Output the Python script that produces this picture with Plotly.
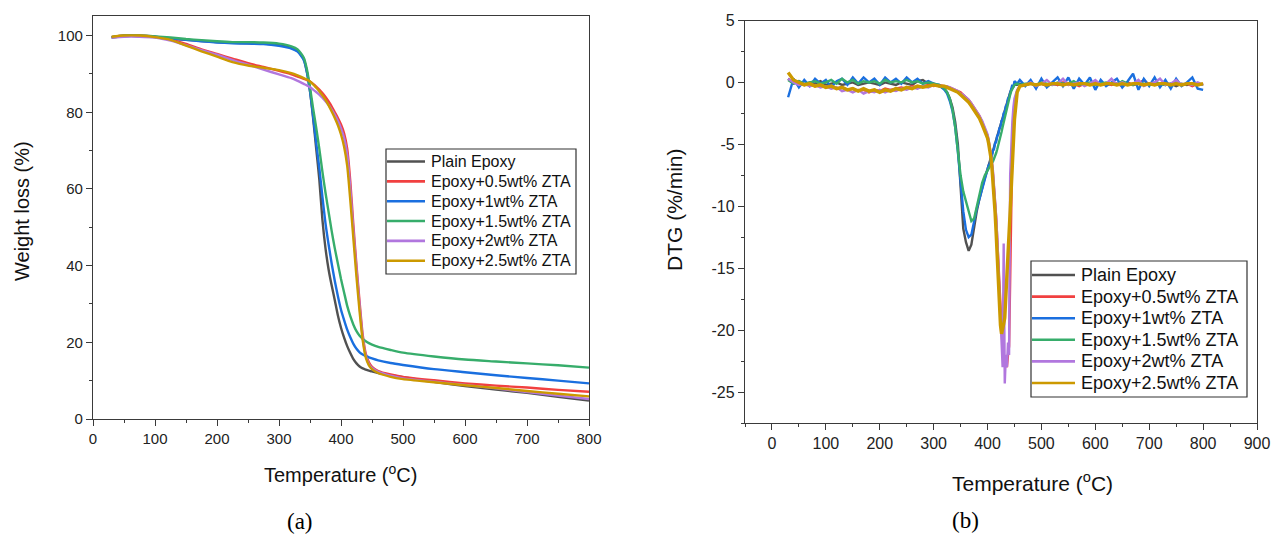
import plotly.graph_objects as go

# ---------------- data ----------------
SERIES = ["Plain Epoxy", "Epoxy+0.5wt% ZTA", "Epoxy+1wt% ZTA",
          "Epoxy+1.5wt% ZTA", "Epoxy+2wt% ZTA", "Epoxy+2.5wt% ZTA"]
COLORS = ["#515151", "#F14040", "#1A6FDF", "#37AD6B", "#B177DE", "#CC9900"]

# (a) TGA: temperature (C) and weight (%)
T_TGA = [30, 50, 75, 100, 125, 150, 175, 200, 225, 250,
         275, 300, 320, 330, 340, 345, 350, 355, 360, 365,
         370, 375, 380, 385, 390, 395, 400, 405, 410, 415,
         420, 425, 430, 435, 440, 445, 450, 460, 480, 500,
         550, 600, 650, 700, 750, 800]
TGA_PLAIN = [99.5, 99.9, 99.9, 99.6, 99.2, 98.9, 98.6, 98.3, 98.1, 98.0,
             97.9, 97.5, 96.8, 96.0, 93.8, 90.5, 85.5, 78.5, 70.5, 62.5,
             52.0, 44.5, 39.0, 34.8, 31.0, 27.0, 23.8, 21.2, 19.0, 17.2,
             15.6, 14.5, 13.7, 13.2, 12.9, 12.6, 12.4, 12.0, 11.4, 10.9,
             9.7, 8.6, 7.7, 6.8, 5.8, 4.8]
TGA_05 = [99.6, 100.0, 100.0, 99.7, 99.0, 97.8, 96.4, 95.2, 94.0, 92.8,
          91.8, 90.8, 89.9, 89.3, 88.7, 88.4, 88.0, 87.4, 86.7, 85.9,
          85.0, 84.0, 82.8, 81.5, 80.0, 78.5, 76.8, 74.5, 70.5, 62.0,
          50.5, 40.0, 30.5, 22.0, 17.0, 14.8, 13.6, 12.5, 11.6, 11.0,
          10.1, 9.3, 8.7, 8.2, 7.6, 7.1]
TGA_1 = [99.6, 99.9, 99.9, 99.7, 99.3, 98.9, 98.5, 98.2, 98.0, 97.9,
         97.8, 97.3, 96.6, 95.8, 93.6, 90.5, 85.5, 79.0, 72.0, 65.5,
         58.0, 51.0, 45.5, 40.5, 36.0, 32.0, 28.5, 25.8, 23.3, 21.3,
         19.6, 18.3, 17.4, 16.8, 16.4, 16.1, 15.8, 15.3, 14.6, 14.1,
         13.0, 12.2, 11.4, 10.7, 10.0, 9.3]
TGA_15 = [99.6, 100.0, 100.0, 99.8, 99.5, 99.1, 98.8, 98.5, 98.3, 98.3,
          98.2, 97.9, 97.2, 96.4, 94.2, 91.2, 86.5, 81.0, 76.0, 70.5,
          64.5, 59.0, 54.0, 49.0, 44.5, 40.5, 36.5, 33.0, 29.5, 26.8,
          24.6, 22.9, 21.7, 20.9, 20.3, 19.8, 19.4, 18.8, 18.0, 17.3,
          16.3, 15.5, 15.0, 14.5, 14.0, 13.4]
TGA_2 = [99.5, 99.7, 99.7, 99.5, 98.7, 97.5, 96.2, 95.0, 93.6, 92.4,
         91.1, 89.9, 88.9, 88.2, 87.4, 87.0, 86.5, 85.9, 85.3, 84.6,
         83.8, 82.9, 81.9, 80.7, 79.3, 77.7, 75.8, 73.3, 69.0, 60.0,
         49.0, 39.0, 29.5, 21.3, 16.5, 14.3, 13.3, 12.3, 11.3, 10.6,
         9.7, 8.9, 8.0, 7.0, 6.1, 5.2]
TGA_25 = [99.7, 100.0, 100.0, 99.6, 98.9, 97.4, 95.9, 94.5, 93.1, 92.2,
          91.6, 91.0, 90.2, 89.6, 88.9, 88.5, 88.0, 87.3, 86.4, 85.5,
          84.4, 83.2, 81.8, 80.2, 78.5, 76.6, 74.2, 71.0, 66.0, 57.0,
          47.0, 37.0, 28.0, 20.5, 16.0, 14.0, 13.0, 12.0, 11.0, 10.4,
          9.6, 8.8, 8.1, 7.3, 6.6, 5.9]

# (b) DTG: sampling temperatures (C) and rate (%/min)
T_DTG = (list(range(30, 320, 10)) + list(range(320, 400, 5)) +
         list(range(400, 452, 2)) + [455, 460, 470] + list(range(480, 810, 10)))

DTG_PLAIN = [0.3, -0.1, 0.1, -0.2, 0.0, -0.1, 0.1, -0.2, -0.1, 0.0,
             -0.2, -0.1, 0.0, -0.2, -0.1, 0.0, -0.1, -0.2, 0.0, -0.1,
             -0.2, 0.0, -0.1, -0.2, 0.1, 0.2, -0.1, -0.1, -0.3,
             -0.5, -0.8, -1.3, -2.0, -3.2, -5.0, -8.5, -11.8, -12.9, -13.6,
             -13.1, -11.6, -10.4, -9.4, -8.5, -7.7,
             -7.0, -6.7, -6.4, -6.1, -5.8, -5.5, -5.2, -4.9, -4.6, -4.3,
             -4.0, -3.7, -3.4, -3.1, -2.8, -2.5, -2.2, -1.9, -1.6, -1.3,
             -1.0, -0.8, -0.6, -0.4, -0.3, -0.2,
             -0.2, -0.1, -0.2,
             -0.1, -0.2, -0.1, -0.2, -0.1, -0.2, -0.1, -0.1, -0.2, -0.1,
             -0.2, -0.1, -0.2, -0.1, -0.2, -0.1, -0.1, -0.2, -0.1, -0.2,
             -0.1, -0.2, -0.1, -0.2, -0.1, -0.2, -0.1, -0.3, -0.1, -0.2,
             -0.1, -0.2, -0.2]
DTG_05 = [0.2, 0.1, -0.1, -0.2, -0.1, -0.3, -0.2, -0.4, -0.3, -0.5,
          -0.4, -0.6, -0.5, -0.7, -0.6, -0.8, -0.6, -0.7, -0.5, -0.6,
          -0.5, -0.4, -0.5, -0.3, -0.4, -0.3, -0.2, -0.3, -0.2,
          -0.3, -0.4, -0.4, -0.5, -0.6, -0.7, -0.8, -1.0, -1.2, -1.4,
          -1.7, -2.0, -2.3, -2.7, -3.2, -3.7,
          -4.3, -4.7, -5.2, -5.8, -6.5, -7.3, -8.3, -9.5, -10.9, -12.6,
          -14.5, -16.6, -18.8, -20.5, -21.5, -22.0, -22.3, -22.8, -23.0, -22.0,
          -21.3, -16.0, -9.0, -5.0, -3.0, -1.8,
          -0.7, -0.3, -0.2,
          -0.1, -0.2, -0.1, -0.3, -0.1, -0.2, 0.0, -0.2, -0.1, -0.3,
          -0.1, -0.2, 0.0, -0.2, -0.1, -0.2, -0.1, -0.3, 0.0, -0.2,
          -0.1, 0.2, -0.2, -0.1, -0.2, 0.0, -0.2, -0.1, -0.2, -0.1,
          -0.3, -0.1, -0.2]
DTG_1 = [-1.2, 0.3, -0.4, 0.2, -0.3, 0.3, -0.1, 0.2, -0.4, 0.1,
         0.3, -0.2, 0.4, -0.1, 0.4, 0.0, 0.3, -0.2, 0.4, 0.0,
         0.3, -0.1, 0.4, 0.0, 0.3, -0.1, 0.1, -0.1, -0.2,
         -0.6, -0.9, -1.5, -2.3, -3.6, -5.6, -8.2, -10.4, -11.9, -12.5,
         -12.3, -11.2, -10.2, -9.4, -8.6, -7.8,
         -7.2, -6.7, -6.6, -6.1, -6.0, -5.5, -5.4, -4.9, -4.8, -4.3,
         -4.2, -3.7, -3.6, -3.1, -3.0, -2.5, -2.4, -1.9, -1.8, -1.3,
         -1.2, -0.8, -0.6, -0.2, -0.4, 0.1,
         -0.1, 0.2, -0.3,
         0.2, -0.5, 0.3, -0.4, 0.0, 0.4, -0.3, 0.4, -0.5, 0.3,
         -0.2, 0.4, -0.6, 0.2, -0.3, 0.0, 0.3, -0.4, 0.1, 0.7,
         -0.6, 0.3, -0.3, 0.4, -0.4, 0.2, -0.5, 0.3, -0.3, 0.0,
         0.4, -0.5, -0.6]
DTG_15 = [0.2, -0.1, 0.1, -0.1, 0.0, 0.1, -0.1, 0.0, 0.2, -0.1,
          0.3, 0.0, 0.2, -0.1, 0.1, 0.0, 0.1, -0.1, 0.2, 0.0,
          0.1, 0.0, 0.2, 0.0, 0.1, -0.1, 0.0, -0.1, -0.2,
          -0.5, -0.8, -1.3, -2.2, -3.6, -5.5, -7.5, -8.8, -9.6, -10.3,
          -11.2, -11.0, -10.0, -9.0, -8.1, -7.5,
          -7.1, -6.9, -6.7, -6.6, -6.5, -6.4, -6.2, -6.0, -5.7, -5.4,
          -5.1, -4.8, -4.4, -4.0, -3.6, -3.2, -2.8, -2.4, -2.0, -1.6,
          -1.3, -1.0, -0.7, -0.5, -0.3, -0.2,
          -0.1, -0.2, -0.1,
          -0.1, -0.2, 0.0, -0.1, -0.2, 0.0, -0.1, -0.1, 0.1, -0.2,
          -0.1, 0.0, -0.2, -0.1, 0.0, -0.1, -0.2, 0.1, -0.1, -0.2,
          0.0, -0.1, -0.2, 0.0, -0.1, -0.2, -0.1, 0.0, -0.2, -0.1,
          -0.1, -0.2, -0.2]
DTG_2 = [0.3, 0.0, -0.2, -0.1, -0.3, -0.2, -0.4, -0.3, -0.5, -0.4,
         -0.7, -0.6, -0.8, -0.6, -0.9, -0.7, -0.8, -0.6, -0.8, -0.6,
         -0.7, -0.5, -0.6, -0.4, -0.5, -0.3, -0.4, -0.2, -0.3,
         -0.3, -0.3, -0.4, -0.5, -0.6, -0.7, -0.9, -1.0, -1.2, -1.4,
         -1.7, -2.0, -2.3, -2.7, -3.1, -3.6,
         -4.2, -4.6, -5.1, -5.6, -6.3, -7.1, -8.1, -9.3, -10.8, -12.5,
         -14.5, -16.8, -19.2, -21.5, -23.0, -13.0, -24.3, -22.0, -23.0, -21.0,
         -22.0, -7.5, -5.0, -3.2, -2.0, -1.3,
         -0.6, -0.3, -0.2,
         0.0, -0.3, -0.1, 0.2, -0.2, -0.1, 0.3, -0.2, -0.1, 0.0,
         -0.3, -0.1, 0.2, -0.2, -0.1, 0.3, -0.2, 0.0, -0.2, -0.1,
         0.2, -0.3, -0.1, 0.0, 0.3, -0.2, -0.1, 0.2, -0.2, -0.1,
         -0.2, 0.0, -0.2]
DTG_25 = [0.8, 0.2, 0.0, -0.2, -0.1, -0.3, -0.2, -0.4, -0.3, -0.5,
          -0.4, -0.6, -0.5, -0.7, -0.5, -0.7, -0.6, -0.8, -0.6, -0.7,
          -0.5, -0.6, -0.4, -0.5, -0.3, -0.4, -0.3, -0.2, -0.3,
          -0.3, -0.4, -0.5, -0.6, -0.7, -0.8, -1.0, -1.2, -1.4, -1.6,
          -1.9, -2.2, -2.5, -2.9, -3.4, -3.9,
          -4.5, -4.9, -5.4, -6.0, -6.8, -7.8, -9.0, -10.5, -12.2, -14.2,
          -16.3, -18.2, -19.6, -20.3, -20.0, -19.5, -19.0, -17.5, -15.8, -14.0,
          -12.2, -10.4, -8.6, -6.8, -4.8, -3.0,
          -0.8, -0.3, -0.2,
          -0.1, -0.2, -0.1, -0.2, -0.1, -0.1, -0.2, -0.1, -0.2, -0.1,
          -0.1, -0.2, -0.1, -0.2, -0.1, -0.1, -0.2, -0.1, -0.2, -0.1,
          -0.1, -0.2, -0.1, -0.2, -0.1, -0.1, -0.2, -0.1, -0.2, -0.1,
          -0.1, -0.2, -0.1]

TGA_ALL = [TGA_PLAIN, TGA_05, TGA_1, TGA_15, TGA_2, TGA_25]
DTG_ALL = [DTG_PLAIN, DTG_05, DTG_1, DTG_15, DTG_2, DTG_25]

TGA_XTICKS = [0, 100, 200, 300, 400, 500, 600, 700, 800]
TGA_YTICKS = [0, 20, 40, 60, 80, 100]
DTG_XTICKS = [0, 100, 200, 300, 400, 500, 600, 700, 800, 900]
DTG_YTICKS = [5, 0, -5, -10, -15, -20, -25]

# ---------------- figure ----------------
W, H = 1274, 535
FONT = "Liberation Sans, Arial, sans-serif"
SERIF = "Liberation Serif, Times New Roman, serif"
AXC = "#3a3a3a"


def px(x):
    return x / W


def py(y):
    return 1 - y / H


fig = go.Figure()
for name, col, ys in zip(SERIES, COLORS, TGA_ALL):
    fig.add_trace(go.Scatter(x=T_TGA, y=ys, name=name, mode="lines",
                             line=dict(color=col, width=2.4, shape="spline", smoothing=0.6),
                             xaxis="x", yaxis="y", showlegend=False))
for name, col, ys in zip(SERIES, COLORS, DTG_ALL):
    fig.add_trace(go.Scatter(x=T_DTG[:len(ys)], y=ys, name=name, mode="lines",
                             line=dict(color=col, width=3.4 if col == "#CC9900" else 2.4),
                             xaxis="x2", yaxis="y2", showlegend=False))

axis_common = dict(showgrid=False, zeroline=False, showline=True, mirror=True,
                   linecolor=AXC, linewidth=1.3, ticks="outside", ticklen=6,
                   tickwidth=1.2, tickcolor=AXC)
tf15 = dict(family=FONT, size=15, color="#222")
tf16 = dict(family=FONT, size=16, color="#222")

fig.update_layout(
    width=W, height=H, margin=dict(l=0, r=0, t=0, b=0, autoexpand=False),
    paper_bgcolor="white", plot_bgcolor="white", showlegend=False,
    xaxis=dict(domain=[px(93), px(589)], range=[0, 800],
               tickvals=TGA_XTICKS, ticktext=[str(v) for v in TGA_XTICKS],
               minor=dict(dtick=50, tick0=0, ticks="outside", ticklen=3, tickcolor=AXC),
               anchor="y", tickfont=tf15, **axis_common),
    yaxis=dict(domain=[py(419), py(16.4)], range=[0, 105],
               tickvals=TGA_YTICKS, ticktext=[str(v) for v in TGA_YTICKS],
               minor=dict(dtick=10, tick0=0, ticks="outside", ticklen=3, tickcolor=AXC),
               anchor="x", tickfont=tf15, **axis_common),
    xaxis2=dict(domain=[px(745), px(1257)], range=[-50, 900],
                tickvals=DTG_XTICKS, ticktext=[str(v) for v in DTG_XTICKS],
                minor=dict(dtick=50, tick0=0, ticks="outside", ticklen=3, tickcolor=AXC),
                anchor="y2", tickfont=tf16, **axis_common),
    yaxis2=dict(domain=[py(423), py(20.5)], range=[-27.5, 5],
                tickvals=DTG_YTICKS, ticktext=[str(v) for v in DTG_YTICKS],
                minor=dict(dtick=2.5, tick0=0, ticks="outside", ticklen=3, tickcolor=AXC),
                anchor="x2", tickfont=tf16, **axis_common),
)

shapes = []
annotations = []


def add_legend(box, line_x, text_x, row_y0, row_dy, fsize):
    x0, y0, x1, y1 = box
    shapes.append(dict(type="rect", xref="paper", yref="paper",
                       x0=px(x0), x1=px(x1), y0=py(y1), y1=py(y0),
                       line=dict(color="#333", width=1.2), fillcolor="white", layer="above"))
    for i, (name, col) in enumerate(zip(SERIES, COLORS)):
        yy = row_y0 + i * row_dy
        shapes.append(dict(type="line", xref="paper", yref="paper",
                           x0=px(line_x[0]), x1=px(line_x[1]), y0=py(yy), y1=py(yy),
                           line=dict(color=col, width=2.6), layer="above"))
        annotations.append(dict(text=name, x=px(text_x), y=py(yy), xanchor="left",
                                yanchor="middle", font=dict(family=FONT, size=fsize, color="#111")))


add_legend((386, 149, 576, 274), (387, 425), 429, 161.5, 19.85, 16)
add_legend((1031, 261, 1247, 397), (1032, 1075), 1079, 275.0, 21.6, 18)

ann_font = dict(family=FONT, size=20, color="#111")
annotations += [
    dict(text="Temperature (<sup>o</sup>C)", x=px(341), y=py(473), font=ann_font),
    dict(text="Weight loss (%)", x=px(22), y=py(211), textangle=-90, font=ann_font),
    dict(text="Temperature (<sup>o</sup>C)", x=px(1032), y=py(482),
         font=dict(family=FONT, size=21, color="#111")),
    dict(text="DTG (%/min)", x=px(674), y=py(210), textangle=-90,
         font=dict(family=FONT, size=21, color="#111")),
    dict(text="(a)", x=px(300), y=py(521), font=dict(family=SERIF, size=23, color="#000")),
    dict(text="(b)", x=px(965), y=py(520), font=dict(family=SERIF, size=23, color="#000")),
]
for a in annotations:
    a.setdefault("xanchor", "center")
    a.setdefault("yanchor", "middle")
    a.update(xref="paper", yref="paper", showarrow=False)

fig.update_layout(shapes=shapes, annotations=annotations)
fig.write_html("out.html", config={"displayModeBar": False},
               post_script="document.body.style.margin='0';document.body.style.overflow='hidden';")
